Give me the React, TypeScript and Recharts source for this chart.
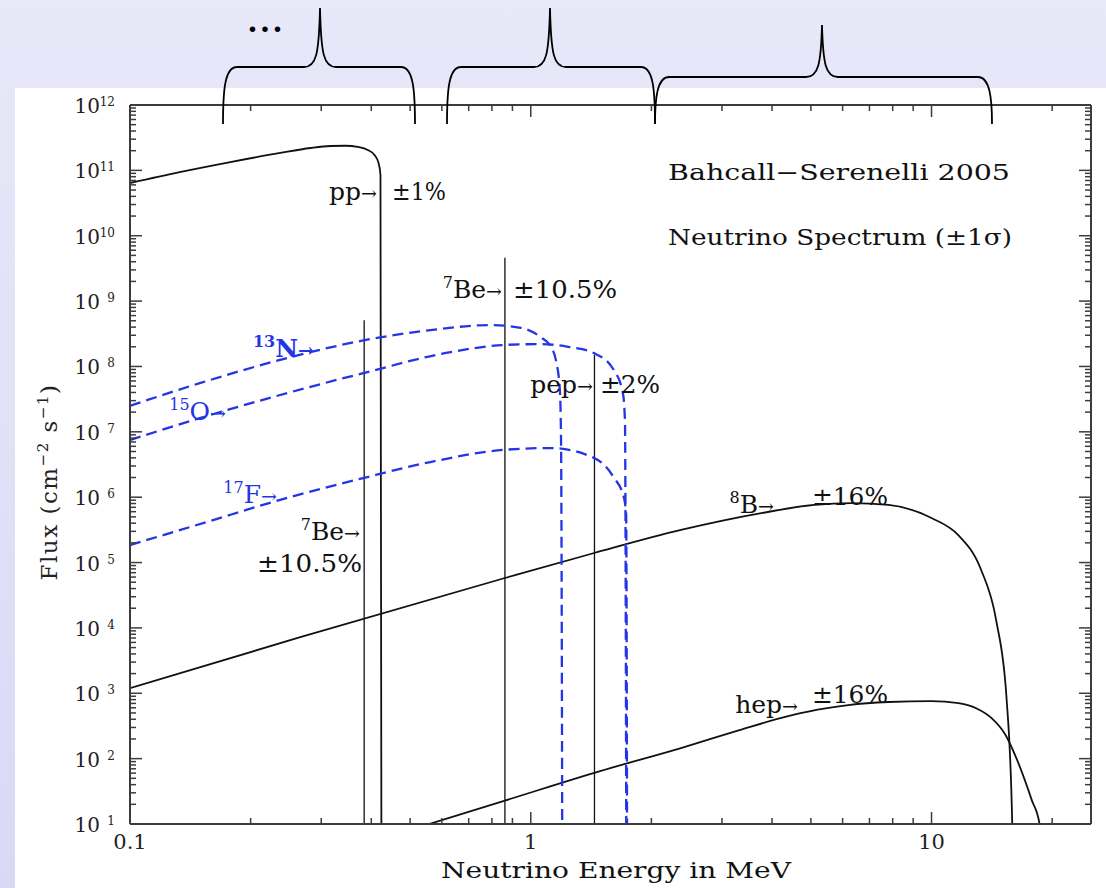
import { LineChart, Line, XAxis, YAxis } from "recharts";

document.body.style.margin = "0";

// energies in MeV, fluxes in cm^-2 s^-1 (MeV^-1 for the continuum sources)
const ppEnergy = [0.1, 0.133, 0.178, 0.237, 0.282, 0.316, 0.345, 0.37, 0.392, 0.408, 0.417, 0.4217, 0.4241];
const ppFlux = [6.4e10, 9.4e10, 1.34e11, 1.85e11, 2.2e11, 2.36e11, 2.38e11, 2.28e11, 2.05e11, 1.7e11, 1.3e11, 8.5e10, 1];

const n13Energy = [0.1, 0.15, 0.237, 0.382, 0.562, 0.794, 0.944, 1.059, 1.122, 1.155, 1.182, 1.19, 1.199];
const n13Flux = [2.5e7, 5.6e7, 1.26e8, 2.5e8, 3.6e8, 4.3e8, 3.9e8, 2.8e8, 2.0e8, 1.26e8, 4.4e7, 7.5e6, 1];

const o15Energy = [0.1, 0.15, 0.237, 0.382, 0.631, 0.856, 1.059, 1.237, 1.437, 1.612, 1.698, 1.718, 1.732];
const o15Flux = [7.5e6, 1.63e7, 3.66e7, 7.9e7, 1.66e8, 2.13e8, 2.2e8, 2.0e8, 1.6e8, 8.8e7, 3.9e7, 1.5e7, 1];

const f17Energy = [0.1, 0.156, 0.237, 0.382, 0.562, 0.856, 1.122, 1.437, 1.612, 1.707, 1.73, 1.74];
const f17Flux = [1.85e5, 4.2e5, 9.1e5, 1.96e6, 3.45e6, 5.3e6, 5.65e6, 4.0e6, 2.0e6, 1.0e6, 5.3e5, 1];

const b8Energy = [0.1, 0.266, 0.862, 1.44, 2.37, 3.76, 5.1, 6.31, 7.81, 10, 11.68, 13.3, 14.5, 15.4, 15.9, 16.0];
const b8Flux = [1.2e3, 7.2e3, 5.8e4, 1.4e5, 3.15e5, 5.7e5, 7.6e5, 8.1e5, 7.6e5, 4.8e5, 2.6e5, 7.7e4, 1.3e4, 790, 10, 1];

const hepEnergy = [0.473, 0.866, 1.496, 2.37, 3.3, 4.22, 5.2, 6.2, 7.81, 10, 11.68, 13.0, 14.1, 15.3, 16.3, 17.8, 18.6, 18.8];
const hepFlux = [7.3, 23, 65, 145, 270, 420, 560, 660, 735, 760, 705, 580, 420, 230, 100, 23, 10, 3];

// line sources: energy and total flux
const lineEnergy = [0.384, 0.862, 1.442];
const lineFlux = [5.1e8, 4.6e9, 1.5e8];

const X_TICKS = [0.1, 0.2, 0.3, 0.4, 0.5, 0.6, 0.7, 0.8, 0.9, 1, 2, 3, 4, 5, 6, 7, 8, 9, 10, 20];
const X_LABELS: Record<string, string> = { "0.1": "0.1", "1": "1", "10": "10" };
const Y_EXPONENTS = [1, 2, 3, 4, 5, 6, 7, 8, 9, 10, 11, 12];
const Y_TICKS = Y_EXPONENTS.flatMap((k) =>
  k === 12 ? [1e12] : [1, 2, 3, 4, 5, 6, 7, 8, 9].map((m) => m * Math.pow(10, k))
);

const pts = (e: number[], f: number[]) => e.map((v, i) => ({ e: v, f: f[i] }));

const SERIF = "'DejaVu Serif', 'Liberation Serif', serif";
const BLUE = "#2435e6";
const AXIS = "#3c3c3c";

const isDecade = (v: number) => Math.abs(Math.log10(v) - Math.round(Math.log10(v))) < 1e-6;

function BottomTick(props: any) {
  const { x, y, payload } = props;
  const label = X_LABELS[String(payload.value)];
  return (
    <g>
      <line x1={x} x2={x} y1={y} y2={y - (label ? 12 : 6)} stroke={AXIS} strokeWidth={1.5} />
      {label && (
        <text x={x} y={y + 25} textAnchor="middle" fontFamily={SERIF} fontSize={21} fill="#222">
          {label}
        </text>
      )}
    </g>
  );
}

function TopTick(props: any) {
  const { x, y, payload } = props;
  const major = X_LABELS[String(payload.value)];
  return <line x1={x} x2={x} y1={y} y2={y + (major ? 12 : 6)} stroke={AXIS} strokeWidth={1.5} />;
}

function LeftTick(props: any) {
  const { x, y, payload } = props;
  const major = isDecade(payload.value);
  const exp = Math.round(Math.log10(payload.value));
  return (
    <g>
      <line x1={x} x2={x + (major ? 12 : 6)} y1={y} y2={y} stroke={AXIS} strokeWidth={1.5} />
      {major && (
        <g fontFamily={SERIF} fill="#222">
          <text x={100} y={y + 8} textAnchor="end" fontSize={20}>10</text>
          <text x={115} y={y + 1} textAnchor="end" fontSize={12}>{exp}</text>
        </g>
      )}
    </g>
  );
}

function RightTick(props: any) {
  const { x, y, payload } = props;
  const major = isDecade(payload.value);
  return <line x1={x} x2={x - (major ? 12 : 6)} y1={y} y2={y} stroke={AXIS} strokeWidth={1.5} />;
}

function Iso({ x, y, mass, sym, fill = "#111", bold = false }: any) {
  return (
    <text x={x} y={y} textAnchor="end" fontFamily={SERIF} fontSize={25} fill={fill} fontWeight={bold ? "bold" : "normal"}>
      <tspan fontSize={16} dy={-10}>{mass}</tspan>
      <tspan dy={10}>{sym}</tspan>
      <tspan fontSize={19}>→</tspan>
    </text>
  );
}

function Word({ x, y, word }: any) {
  return (
    <text x={x} y={y} textAnchor="end" fontFamily={SERIF} fontSize={25} fill="#111">
      {word}
      <tspan fontSize={19}>→</tspan>
    </text>
  );
}

function Plain({ x, y, w, children, size = 25 }: any) {
  return (
    <text x={x} y={y} fontFamily={SERIF} fontSize={size} fill="#111" textLength={w} lengthAdjust="spacingAndGlyphs">
      {children}
    </text>
  );
}

function brace(x1: number, x2: number, xc: number, yh: number, yp: number, yb: number) {
  return [
    `M${x1},${yb}`,
    `C${x1},${yh + 22} ${x1 + 2},${yh} ${x1 + 14},${yh}`,
    `L${xc - 16},${yh}`,
    `C${xc - 4},${yh} ${xc - 1},${yh - 12} ${xc},${yp}`,
    `C${xc + 1},${yh - 12} ${xc + 4},${yh} ${xc + 16},${yh}`,
    `L${x2 - 14},${yh}`,
    `C${x2 - 2},${yh} ${x2},${yh + 22} ${x2},${yb}`,
  ].join(" ");
}

export default function App() {
  const curve = (data: any[], key: string, color: string, dashed = false, width = 1.8) => (
    <Line
      key={key}
      xAxisId="b"
      yAxisId="l"
      data={data}
      dataKey="f"
      type="monotone"
      stroke={color}
      strokeWidth={width}
      strokeDasharray={dashed ? "11 6" : undefined}
      dot={false}
      activeDot={false}
      isAnimationActive={false}
    />
  );

  return (
    <div
      style={{
        position: "relative",
        width: 1106,
        height: 888,
        background: "linear-gradient(180deg, #e8e8f9 0%, #d9d9f6 100%)",
        overflow: "hidden",
      }}
    >
      <div style={{ position: "absolute", left: 15, top: 88, width: 1091, height: 800, background: "#fff" }} />
      <div style={{ position: "absolute", left: 0, top: 0 }}>
        <LineChart width={1106} height={888} margin={{ top: 100, right: 10, bottom: 0, left: 0 }}>
          <XAxis
            xAxisId="b"
            dataKey="e"
            type="number"
            scale="log"
            domain={[0.1, 25]}
            allowDataOverflow
            ticks={X_TICKS}
            interval={0}
            tickSize={0}
            tickMargin={0}
            tickLine={false}
            tick={(p: any) => <BottomTick {...p} />}
            height={64}
            axisLine={{ stroke: AXIS, strokeWidth: 2 }}
          />
          <XAxis
            xAxisId="t"
            orientation="top"
            dataKey="e"
            type="number"
            scale="log"
            domain={[0.1, 25]}
            allowDataOverflow
            ticks={X_TICKS}
            interval={0}
            tickSize={0}
            tickMargin={0}
            tickLine={false}
            tick={(p: any) => <TopTick {...p} />}
            height={5}
            axisLine={{ stroke: AXIS, strokeWidth: 2 }}
          />
          <YAxis
            yAxisId="l"
            type="number"
            scale="log"
            domain={[10, 1e12]}
            allowDataOverflow
            ticks={Y_TICKS}
            interval={0}
            tickSize={0}
            tickMargin={0}
            tickLine={false}
            tick={(p: any) => <LeftTick {...p} />}
            width={130}
            axisLine={{ stroke: AXIS, strokeWidth: 2 }}
          />
          <YAxis
            yAxisId="r"
            orientation="right"
            type="number"
            scale="log"
            domain={[10, 1e12]}
            allowDataOverflow
            ticks={Y_TICKS}
            interval={0}
            tickSize={0}
            tickMargin={0}
            tickLine={false}
            tick={(p: any) => <RightTick {...p} />}
            width={5}
            axisLine={{ stroke: AXIS, strokeWidth: 2 }}
          />
          {lineEnergy.map((e, i) =>
            curve(
              [
                { e, f: 10 },
                { e, f: lineFlux[i] },
              ],
              `line${i}`,
              "#111",
              false,
              1.3
            )
          )}
          {curve(pts(ppEnergy, ppFlux), "pp", "#111")}
          {curve(pts(b8Energy, b8Flux), "b8", "#111")}
          {curve(pts(hepEnergy, hepFlux), "hep", "#111")}
          {curve(pts(n13Energy, n13Flux), "n13", BLUE, true, 2.3)}
          {curve(pts(o15Energy, o15Flux), "o15", BLUE, true, 2.3)}
          {curve(pts(f17Energy, f17Flux), "f17", BLUE, true, 2.3)}
        </LineChart>
      </div>

      <svg width={1106} height={888} style={{ position: "absolute", left: 0, top: 0, pointerEvents: "none" }}>
        {/* braces above the plot */}
        <g fill="none" stroke="#000" strokeWidth={1.8}>
          <path d={brace(223, 415, 320, 67, 8, 124)} />
          <path d={brace(447, 655, 550, 67, 8, 124)} />
          <path d={brace(655, 992, 822, 77, 25, 124)} />
        </g>
        <text x={266} y={32} textAnchor="middle" fontFamily={SERIF} fontSize={30} fontWeight="bold" fill="#000" letterSpacing={2}>
          ...
        </text>

        <Plain x={668} y={180} w={342} size={22}>Bahcall−Serenelli 2005</Plain>
        <Plain x={668} y={245} w={344} size={22}>Neutrino Spectrum (±1σ)</Plain>

        <Word x={377} y={200} word="pp" />
        <Plain x={392} y={200} w={54}>±1%</Plain>

        <Iso x={502} y={298} mass="7" sym="Be" />
        <Plain x={513} y={298} w={104}>±10.5%</Plain>

        <Word x={593} y={393} word="pep" />
        <Plain x={600} y={393} w={60}>±2%</Plain>

        <Iso x={314} y={357} mass="13" sym="N" fill={BLUE} bold />
        <Iso x={226} y={420} mass="15" sym="O" fill={BLUE} />
        <Iso x={277} y={503} mass="17" sym="F" fill={BLUE} />

        <Iso x={360} y={540} mass="7" sym="Be" />
        <Plain x={257} y={572} w={105}>±10.5%</Plain>

        <Iso x={774} y={513} mass="8" sym="B" />
        <Plain x={812} y={505} w={76}>±16%</Plain>

        <Word x={798} y={713} word="hep" />
        <Plain x={812} y={703} w={76}>±16%</Plain>

        {/* axis titles */}
        <Plain x={441} y={878} w={350} size={23}>Neutrino Energy in MeV</Plain>
        <text
          transform="translate(57,482) rotate(-90)"
          textAnchor="middle"
          fontFamily={SERIF}
          fontSize={23}
          fill="#222"
          letterSpacing={1.5}
        >
          Flux (cm<tspan fontSize={15} dy={-9}>−2</tspan>
          <tspan dy={9}> s</tspan>
          <tspan fontSize={15} dy={-9}>−1</tspan>
          <tspan dy={9}>)</tspan>
        </text>
      </svg>
    </div>
  );
}
